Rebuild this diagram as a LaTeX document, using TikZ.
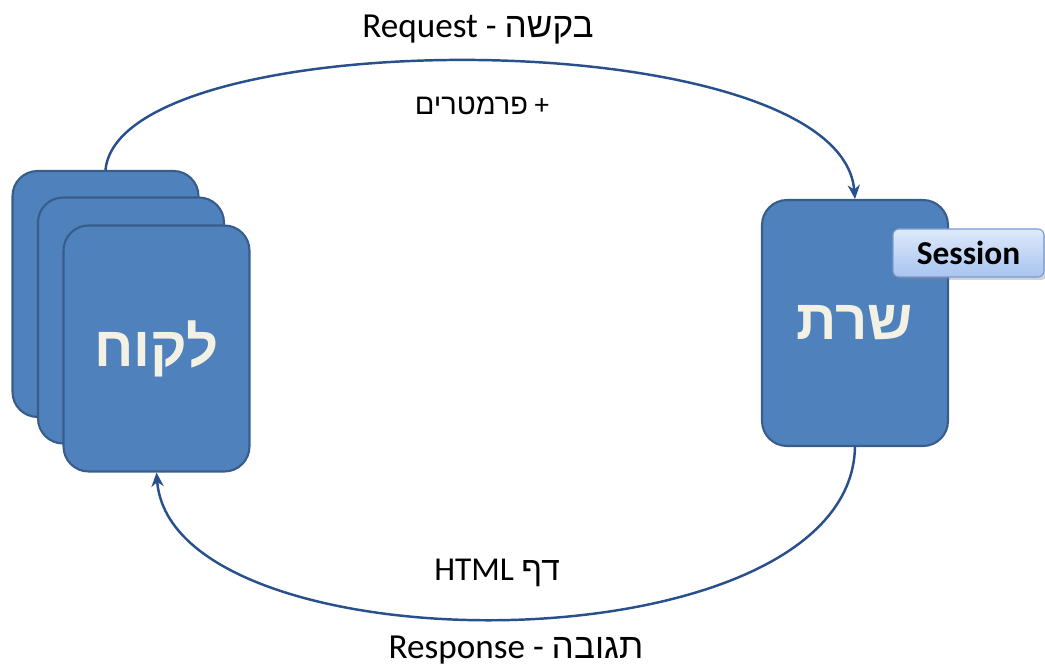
\documentclass[tikz,border=0pt]{standalone}
\usepackage{fontspec}
\setmainfont{Carlito}
\newfontfamily\hebfont[Script=Hebrew]{Liberation Sans}
\TeXXeTstate=1
\usetikzlibrary{arrows.meta,shadows}
\definecolor{boxblue}{RGB}{79,129,189}
\definecolor{boxline}{RGB}{56,93,138}
\definecolor{arcblue}{RGB}{40,80,140}
\definecolor{boxtext}{RGB}{243,241,228}
\definecolor{tabtop}{RGB}{222,233,251}
\definecolor{tabbot}{RGB}{168,196,240}
\definecolor{tabline}{RGB}{120,155,210}
\begin{document}
\begin{tikzpicture}[x=0.02cm,y=-0.02cm,
    card/.style={draw=boxline,line width=1.2pt,fill=boxblue,rounded corners=0.5cm,
      minimum width=3.72cm,minimum height=4.92cm,text=boxtext},
    tab/.style={draw=tabline,line width=0.6pt,rounded corners=0.12cm,
      top color=tabtop,bottom color=tabbot,minimum width=3.02cm,minimum height=0.96cm,
      drop shadow={shadow xshift=0.06cm,shadow yshift=-0.06cm,opacity=0.35}},
    flow/.style={draw=arcblue,line width=1.4pt,-{Stealth[length=8pt,width=7pt]}}]
  \useasboundingbox (0,0) rectangle (1045,671);
  % client stack
  \node[card] (client1) at (105.5,294) {};
  \node[card] (client2) at (131,320.5) {};
  \node[card] (client3) at (156.5,348.5)
    {\fontsize{32}{38}\selectfont\hebfont\bfseries\beginR לקוח\endR};
  % server
  \node[card] (server) at (855,323)
    {\raisebox{-5pt}{\fontsize{32}{38}\selectfont\hebfont\bfseries\beginR שרת\endR}\hspace{7pt}};
  \node[tab] (session) at (968.5,253) {\fontsize{19}{22}\selectfont\bfseries Session};
  % request / response
  \draw[flow] (client1.north) .. controls (120,20) and (840,20) .. (server.north);
  \draw[flow] (server.south) .. controls (850,672) and (172,672) .. (client3.south);
  \node (request) at (478,30)
    {\fontsize{20}{24}\selectfont\beginR{\hebfont בקשה} - \beginL Request\endL\endR};
  \node (params) at (482,106)
    {\fontsize{16.5}{20}\selectfont\beginR + {\hebfont פרמטרים}\endR};
  \node (page) at (497,573)
    {\fontsize{19}{23}\selectfont\beginR{\hebfont דף} \beginL HTML\endL\endR};
  \node (response) at (516,650)
    {\fontsize{20}{24}\selectfont\beginR{\hebfont תגובה} - \beginL Response\endL\endR};
\end{tikzpicture}
\end{document}
